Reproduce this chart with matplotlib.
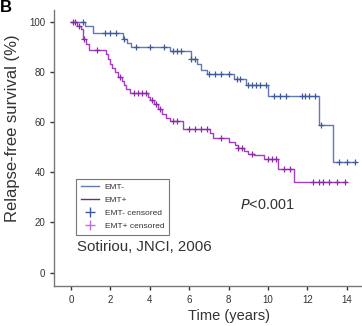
import matplotlib
matplotlib.use('Agg')
import matplotlib.pyplot as plt
from matplotlib.lines import Line2D

plt.rcParams['font.family'] = ['Liberation Sans', 'DejaVu Sans']

# EMT- (step times, survival after step)
emt_neg_t = [0, 0.7, 1.1, 2.65, 2.85, 3.05, 5.0, 6.1, 6.4, 6.6, 6.9, 8.25, 8.9, 9.9, 10.0, 12.6, 13.3, 14.45]
emt_neg_s = [100, 98.3, 95.7, 93.2, 91.5, 89.9, 88.3, 85.3, 83.0, 81.0, 79.4, 77.2, 74.8, 74.8, 70.5, 58.8, 44.2, 44.2]
emt_neg_cens_t = [0.6, 1.7, 2.0, 2.3, 2.7, 3.3, 4.0, 4.7, 5.2, 5.4, 5.6, 6.1, 6.3, 7.0, 7.3, 7.6, 8.0,
                  8.4, 8.6, 9.0, 9.2, 9.4, 9.6, 9.9, 10.3, 10.6, 10.9, 11.7, 11.9, 12.1, 12.4, 12.7,
                  13.6, 14.0, 14.4]

# EMT+
emt_pos_t = [0, 0.3, 0.5, 0.6, 0.75, 0.9, 1.75, 1.9, 2.0, 2.1, 2.25, 2.4, 2.6, 2.7, 2.8, 3.0,
             3.9, 4.0, 4.2, 4.4, 4.6, 4.8, 5.0, 5.67, 7.05, 7.2, 8.0, 8.3, 8.5, 8.8, 9.0, 9.3,
             9.8, 10.5, 11.3, 13.95]
emt_pos_s = [100, 98.5, 97.0, 93.1, 91.0, 88.7, 87.0, 85.0, 83.0, 81.5, 80.0, 78.1, 76.5, 75.0,
             73.3, 71.7, 70.2, 69.0, 67.2, 65.3, 63.4, 61.8, 60.4, 57.4, 55.5, 53.8, 52.2, 50.8,
             49.8, 48.3, 47.3, 46.8, 45.2, 41.2, 36.3, 36.3]
emt_pos_cens_t = [0.1, 0.2, 0.4, 0.65, 1.3, 2.5, 3.2, 3.4, 3.6, 3.8, 4.1, 4.3, 4.5, 5.2, 5.4,
                  6.0, 6.3, 6.6, 6.9, 7.6, 8.5, 8.7, 9.2, 10.0, 10.2, 10.4, 10.8, 11.1,
                  12.3, 12.6, 12.8, 13.1, 13.5, 13.9]

xticks = [0, 2, 4, 6, 8, 10, 12, 14]
yticks = [0, 20, 40, 60, 80, 100]

blue_line = '#6379b3'
blue_mark = '#3d5a9c'
purple_line = '#a63cc4'
purple_mark = '#8a2aa6'
txt = '#333333'


def surv_at(ts, ss, t):
    val = ss[0]
    for a, b in zip(ts, ss):
        if a <= t:
            val = b
    return val


fig = plt.figure(figsize=(3.62, 3.26), dpi=100)
ax = fig.add_axes([0.150, 0.124, 0.850, 0.845])

ax.step(emt_neg_t, emt_neg_s, where='post', color=blue_line, lw=1.0)
ax.step(emt_pos_t, emt_pos_s, where='post', color=purple_line, lw=1.0)
ax.plot(emt_neg_cens_t, [surv_at(emt_neg_t, emt_neg_s, t) for t in emt_neg_cens_t],
        '+', color=blue_mark, ms=4, mew=0.9)
ax.plot(emt_pos_cens_t, [surv_at(emt_pos_t, emt_pos_s, t) for t in emt_pos_cens_t],
        '+', color=purple_mark, ms=4, mew=0.9)

ax.set_xlim(-0.85, 14.77)
ax.set_ylim(-5.2, 104.7)
ax.set_xticks(xticks)
ax.set_yticks(yticks)
ax.tick_params(labelsize=7, colors=txt, length=3, width=1.0)
for s in ['top', 'right']:
    ax.spines[s].set_visible(False)
for s in ['left', 'bottom']:
    ax.spines[s].set_color('#777777')
    ax.spines[s].set_linewidth(1.0)

ax.set_xlabel('Time (years)', fontsize=10.5, color=txt)
ax.xaxis.set_label_coords(0.568, -0.085)
ax.set_ylabel('Relapse-free survival (%)', fontsize=12, color=txt)
ax.yaxis.set_label_coords(-0.112, 0.57)

handles = [Line2D([], [], color=blue_line, lw=1.0),
           Line2D([], [], color='#6a2a8a', lw=1.0),
           Line2D([], [], color=blue_mark, marker='+', ls='none', ms=7),
           Line2D([], [], color='#c070d8', marker='+', ls='none', ms=7)]
labels = ['EMT-', 'EMT+', 'EMT- censored', 'EMT+ censored']
leg = ax.legend(handles, labels, loc='lower left', bbox_to_anchor=(0.056, 0.167),
                fontsize=6, frameon=True, fancybox=False, handlelength=2.2,
                borderpad=0.6, labelspacing=0.62, handletextpad=0.7)
leg.get_frame().set_edgecolor('#555555')
leg.get_frame().set_linewidth(0.8)
for t in leg.get_texts():
    t.set_color(txt)

ax.text(0.603, 0.293, '$P$<0.001', transform=ax.transAxes, fontsize=10.4, color=txt, va='center')
ax.text(0.075, 0.14, 'Sotiriou, JNCI, 2006', transform=ax.transAxes, fontsize=10.8, color=txt,
        va='center')

fig.text(0.0, 1.0, 'B', fontsize=12, fontweight='bold', va='top', ha='left')

fig.savefig('out.png', dpi=100)
